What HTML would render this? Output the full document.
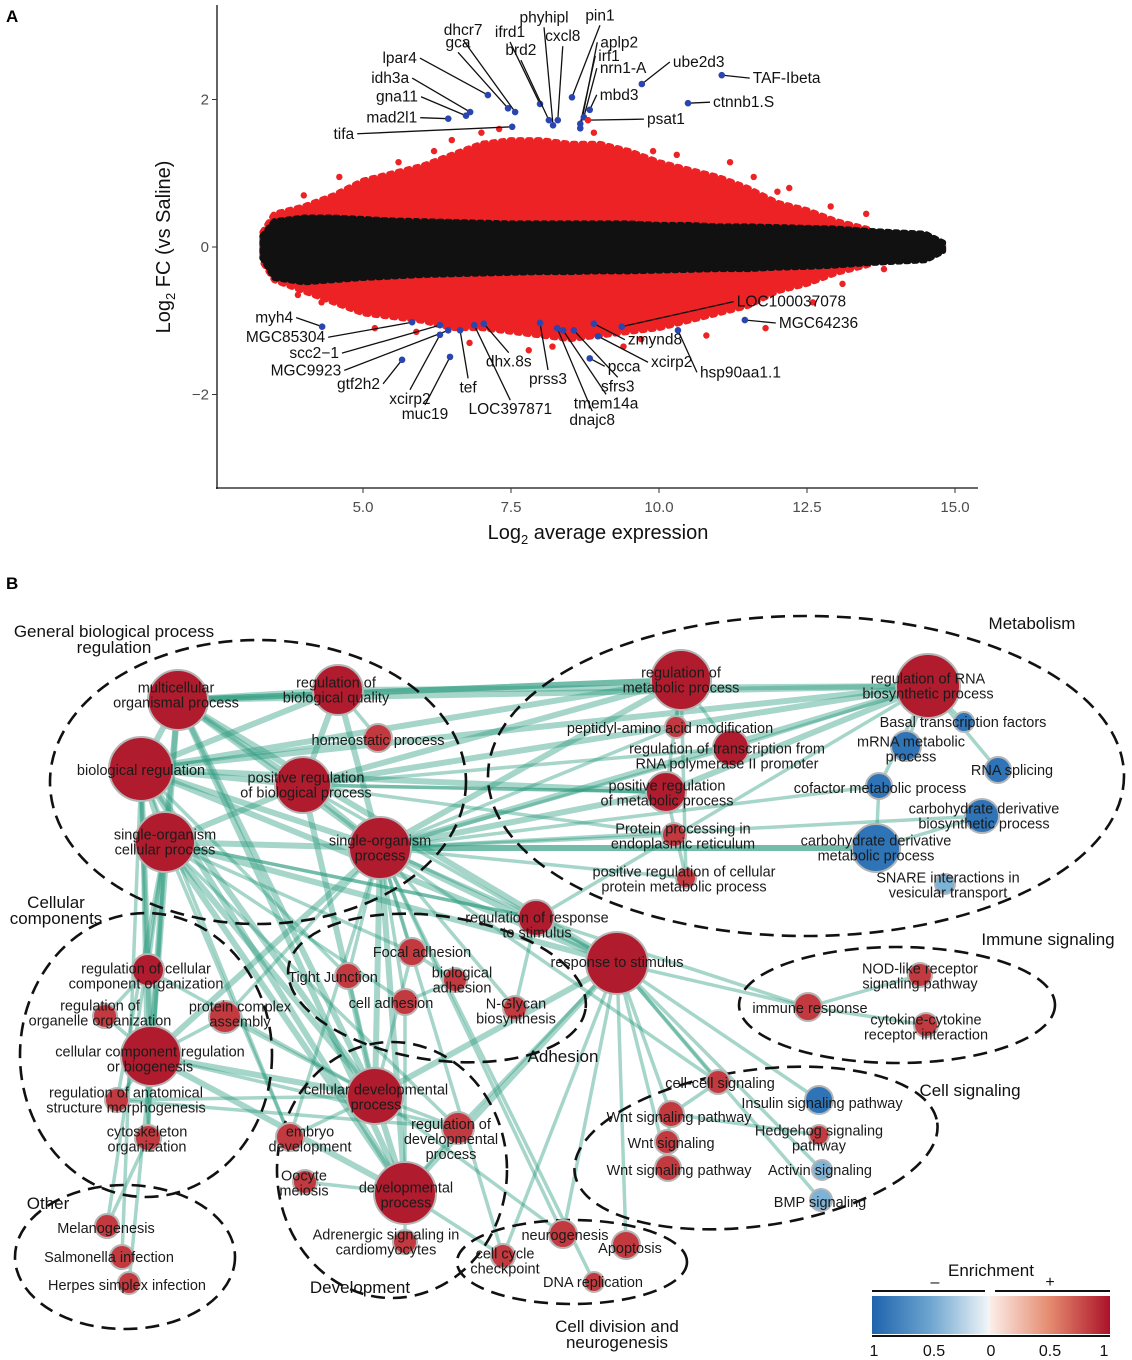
<!DOCTYPE html>
<html><head><meta charset="utf-8">
<style>
html,body{margin:0;padding:0;background:#fff;}
svg{display:block;font-family:"Liberation Sans",sans-serif;}
</style></head>
<body>
<svg id="fig" width="1132" height="1360" viewBox="0 0 1132 1360" xmlns="http://www.w3.org/2000/svg">
<defs>
<linearGradient id="gBlue" x1="0" x2="1" y1="0" y2="0"><stop offset="0" stop-color="#1f63ad"/><stop offset="0.5" stop-color="#6ea6d0"/><stop offset="1" stop-color="#f4f7f9"/></linearGradient>
<linearGradient id="gRed" x1="0" x2="1" y1="0" y2="0"><stop offset="0" stop-color="#fbeee8"/><stop offset="0.5" stop-color="#e58a6f"/><stop offset="1" stop-color="#ab1229"/></linearGradient>
</defs>
<text x="6" y="22" font-size="17" font-weight="bold">A</text>
<g id="panelA"></g>
<text x="6" y="589" font-size="17" font-weight="bold">B</text>
<g id="panelB"></g>
</svg>
<script>
// ---------- Panel A data ----------
const envX  = [3.3,3.5,4,4.5,5,5.5,6,6.5,7,7.5,8,8.5,9,9.5,10,10.5,11,11.5,12,12.5,13,13.5,14,14.5,14.8];
const redUp = [0.2,0.45,0.55,0.7,0.9,1.0,1.1,1.25,1.4,1.45,1.45,1.4,1.4,1.3,1.15,1.05,0.95,0.8,0.6,0.5,0.35,0.25,0.1,0.06,0.03];
const redLo = [-0.2,-0.45,-0.6,-0.75,-0.9,-0.95,-1.0,-1.1,-1.1,-1.15,-1.2,-1.25,-1.2,-1.15,-1.1,-1.0,-0.9,-0.8,-0.6,-0.5,-0.35,-0.25,-0.1,-0.06,-0.03];
const blkUp = [0.15,0.35,0.4,0.4,0.38,0.36,0.35,0.34,0.33,0.32,0.32,0.32,0.32,0.32,0.3,0.3,0.28,0.28,0.27,0.26,0.25,0.22,0.2,0.18,0.06];
const blkLo = [-0.15,-0.42,-0.48,-0.45,-0.42,-0.4,-0.38,-0.37,-0.36,-0.35,-0.34,-0.34,-0.33,-0.33,-0.32,-0.31,-0.3,-0.3,-0.28,-0.27,-0.25,-0.22,-0.2,-0.18,-0.06];
const redOutX = [4.0,4.6,6.2,9.9,12.2,13.5,11.2,5.2,7.8,10.8,12.6,13.8,11.8,9.4,8.9,6.8,3.9,12.9,7.3,5.6,6.5,10.3,11.6,13.1,4.3,8.2,9.7,12.0,5.9,7.0];
const redOutY = [0.7,0.95,1.3,1.3,0.8,0.45,1.15,-1.1,-1.4,-1.2,-0.75,-0.3,-1.1,-1.35,1.55,-1.3,-0.65,0.55,1.6,1.15,1.45,1.25,0.95,-0.5,-0.75,-1.35,-1.25,0.75,-1.15,1.55];
const xTicks = [5.0,7.5,10.0,12.5,15.0];
const xTickLabels = ["5.0","7.5","10.0","12.5","15.0"];
const yTicks = [2,0,-2];
const yTickLabels = ["2","0","\u22122"];
const geneNames = ["tifa","mad2l1","gna11","idh3a","lpar4","gca","dhcr7","ifrd1","brd2","phyhipl","cxcl8","pin1","aplp2","irf1","nrn1-A","mbd3","psat1","ube2d3","ctnnb1.S","TAF-Ibeta",
 "myh4","MGC85304","scc2\u22121","MGC9923","gtf2h2","xcirp2","muc19","tef","LOC397871","dhx.8s","prss3","dnajc8","tmem14a","sfrs3","pcca","xcirp2","zmynd8","hsp90aa1.1","MGC64236","LOC100037078"];
const geneX = [7.52,6.44,6.74,6.81,7.11,7.45,7.57,7.99,8.14,8.21,8.29,8.53,8.67,8.67,8.73,8.83,8.80,9.71,10.49,11.06,
 4.31,5.83,6.30,6.44,5.66,6.30,6.47,6.64,6.88,7.04,7.99,8.28,8.38,8.56,8.83,8.97,8.90,10.32,11.45,9.37];
const geneY = [1.63,1.74,1.78,1.83,2.06,1.88,1.83,1.94,1.72,1.65,1.72,2.03,1.61,1.67,1.76,1.86,1.72,2.21,1.95,2.33,
 -1.08,-1.02,-1.06,-1.13,-1.53,-1.19,-1.49,-1.13,-1.06,-1.04,-1.03,-1.10,-1.13,-1.13,-1.51,-1.21,-1.04,-1.13,-0.99,-1.08];
const geneRed = [0,0,0,0,0,0,0,0,0,0,0,0,0,0,0,0,1,0,0,0, 0,0,0,0,0,0,0,0,0,0,0,0,0,0,0,0,0,0,0,0];
const lblDX = [-155,-28,-45,-58,-68,-50,-52,-30,-28,-9,5,28,17,15,13,7,56,28,22,28, -26,-84,-98,-104,-19,-30,-25,8,36,25,8,35,43,44,15,50,31,19,31,112];
const lblDY = [7,-1,-19,-34,-37,-56,-72,-62,-60,-98,-74,-72,-86,-68,-49,-15,-1,-22,-1,3, -9,15,28,40,24,55,48,48,75,29,47,83,64,47,8,26,16,42,3,-25];
const lblAnc = ["e","e","e","e","e","m","m","m","m","m","m","m","s","s","s","s","s","s","s","s",
 "e","e","e","e","e","mb","mb","mb","mb","mb","mb","mb","mb","mb","s","s","s","s","s","s"];

const NS="http://www.w3.org/2000/svg";
function mk(tag, attrs, parent){const e=document.createElementNS(NS,tag);for(const k in attrs)e.setAttribute(k,attrs[k]);parent.appendChild(e);return e;}
const xs = v => 363 + (v-5)*59.2;
const ys = v => 247 - v*73.75;

const A = document.getElementById('panelA');
function band(up, lo){let d='M'+xs(envX[0])+','+ys(up[0]);for(let i=1;i<envX.length;i++)d+='L'+xs(envX[i])+','+ys(up[i]);for(let i=envX.length-1;i>=0;i--)d+='L'+xs(envX[i])+','+ys(lo[i]);return d+'Z';}
let p = mk('path',{d:band(redUp,redLo),fill:'#ec2224',stroke:'#ec2224','stroke-width':6,'stroke-dasharray':'3 6','stroke-linecap':'round','stroke-linejoin':'round'},A);


for(let i=0;i<redOutX.length;i++){
  const c = mk('circle',{cx:xs(redOutX[i]),cy:ys(redOutY[i]),r:3.2,fill:'#ec2224'},A);
  
  
}
p = mk('path',{d:band(blkUp,blkLo),fill:'#111',stroke:'#111','stroke-width':6,'stroke-dasharray':'3 5','stroke-linecap':'round','stroke-linejoin':'round'},A);


for(let i=0;i<geneNames.length;i++){
  const px=xs(geneX[i]), py=ys(geneY[i]);
  const ex=px+lblDX[i], ey=py+lblDY[i];
  const l = mk('line',{x1:px,y1:py,x2:ex,y2:ey,stroke:'#111','stroke-width':1.3},A);
  
  
  const c = mk('circle',{cx:px,cy:py,r:3.3,fill:geneRed[i]?'#ec2224':'#2a45b0'},A);
  
  
  let tx=ex, ty=ey+5, an='start';
  if(lblAnc[i]==='e'){tx=ex-3;an='end';}
  else if(lblAnc[i]==='s'){tx=ex+3;}
  else if(lblAnc[i]==='m'){an='middle';ty=ey-5;}
  else {an='middle';ty=ey+14;}
  const t = mk('text',{x:tx,y:ty,'text-anchor':an,'font-size':15.5,fill:'#111'},A);
  t.textContent=geneNames[i];
  
  
}
let ax = mk('line',{x1:217,y1:5,x2:217,y2:489,stroke:'#111','stroke-width':1.3},A);


ax = mk('line',{x1:216,y1:488,x2:978,y2:488,stroke:'#111','stroke-width':1.3},A);


for(let i=0;i<xTicks.length;i++){
  mk('line',{x1:xs(xTicks[i]),y1:488,x2:xs(xTicks[i]),y2:493,stroke:'#333'},A);
  const t=mk('text',{x:xs(xTicks[i]),y:512,'text-anchor':'middle','font-size':15,fill:'#4d4d4d'},A);
  t.textContent=xTickLabels[i];
  
  
}
for(let i=0;i<yTicks.length;i++){
  mk('line',{x1:212,y1:ys(yTicks[i]),x2:217,y2:ys(yTicks[i]),stroke:'#333'},A);
  const t=mk('text',{x:209,y:ys(yTicks[i])+5,'text-anchor':'end','font-size':15,fill:'#4d4d4d'},A);
  t.textContent=yTickLabels[i];
  
  
}
let tt = mk('text',{x:598,y:539,'text-anchor':'middle','font-size':20,fill:'#111'},A);
tt.innerHTML='Log<tspan font-size="13" dy="5">2</tspan><tspan dy="-5"> average expression</tspan>';


tt = mk('text',{x:0,y:0,'text-anchor':'middle','font-size':20,fill:'#111',transform:'translate(170,247) rotate(-90)'},A);
tt.innerHTML='Log<tspan font-size="13" dy="5">2</tspan><tspan dy="-5"> FC (vs Saline)</tspan>';



// ---------- Panel B data ----------
const nodeLabels = [
 ["multicellular","organismal process"],["regulation of","biological quality"],["homeostatic process"],["biological regulation"],
 ["positive regulation","of biological process"],["single-organism","cellular process"],["single-organism","process"],
 ["regulation of","metabolic process"],["regulation of RNA","biosynthetic process"],["peptidyl-amino acid modification"],
 ["Basal transcription factors"],["regulation of transcription from","RNA polymerase II promoter"],["mRNA metabolic","process"],
 ["RNA splicing"],["positive regulation","of metabolic process"],["cofactor metabolic process"],["carbohydrate derivative","biosynthetic process"],
 ["Protein processing in","endoplasmic reticulum"],["carbohydrate derivative","metabolic process"],["positive regulation of cellular","protein metabolic process"],
 ["SNARE interactions in","vesicular transport"],["regulation of response","to stimulus"],["response to stimulus"],["Focal adhesion"],
 ["Tight Junction"],["biological","adhesion"],["cell adhesion"],["N-Glycan","biosynthesis"],["regulation of cellular","component organization"],
 ["regulation of","organelle organization"],["protein complex","assembly"],["cellular component regulation","or biogenesis"],
 ["regulation of anatomical","structure morphogenesis"],["cytoskeleton","organization"],["immune response"],["NOD-like receptor","signaling pathway"],
 ["cytokine-cytokine","receptor interaction"],["cell-cell signaling"],["Insulin signaling pathway"],["Wnt signaling pathway"],
 ["Hedgehog signaling","pathway"],["Wnt signaling"],["Activin signaling"],["Wnt signaling pathway"],["BMP signaling"],
 ["cellular developmental","process"],["embryo","development"],["regulation of","developmental","process"],["Oocyte","meiosis"],
 ["developmental","process"],["Adrenergic signaling in","cardiomyocytes"],["neurogenesis"],["Apoptosis"],["cell cycle","checkpoint"],
 ["DNA replication"],["Melanogenesis"],["Salmonella infection"],["Herpes simplex infection"]];
const nodeEnrich = [1,1,0.9,1,1,1,1,1,1,0.9,-0.8,1,-0.9,-0.8,1,-0.9,-0.9,0.9,-0.9,0.9,-0.5,1,1,0.9,0.9,0.9,0.9,0.9,1,0.9,0.9,1,0.9,0.9,0.9,0.9,0.9,0.9,-0.9,0.9,0.9,0.9,-0.45,0.9,-0.45,1,0.9,0.9,0.9,1,0.9,0.9,0.9,0.9,0.9,0.9,0.9,0.9];
const nodeSize = [30,25,14,32,28,30,31,30,32,11,10,18,15,13,20,13,17,12,24,10,10,18,31,14,13,12,13,12,16,12,16,30,12,13,14,12,12,12,14,13,10,12,10,13,11,28,14,16,12,31,12,14,14,12,10,12,12,11];
const nodeX = [178,338,378,141,303,165,380,681,928,676,964,731,906,998,666,879,982,674,876,686,945,536,617,412,348,455,405,515,148,105,225,151,117,148,808,920,926,718,819,671,819,667,822,668,821,375,290,458,305,405,405,563,626,503,594,107,122,129];
const nodeY = [700,690,738,769,785,842,848,680,686,727,722,748,746,770,792,786,816,835,848,878,884,918,963,952,976,980,1002,1008,970,1016,1017,1056,1100,1138,1007,975,1025,1082,1100,1114,1135,1142,1170,1168,1200,1096,1137,1128,1182,1193,1242,1234,1245,1256,1282,1226,1257,1283];
const labelX = [176,336,378,141,306,165,380,681,928,670,963,727,911,1012,667,880,984,683,876,684,948,537,617,422,333,462,391,516,146,100,240,150,126,147,810,920,926,720,822,679,819,671,820,679,820,376,310,451,304,406,386,565,630,505,593,106,109,127];
const labelY = [695,690,740,770,785,842,848,680,686,728,722,756,749,770,793,788,816,836,848,879,885,925,962,952,977,980,1003,1011,976,1013,1014,1059,1100,1139,1008,976,1027,1083,1103,1117,1138,1143,1170,1170,1202,1097,1139,1139,1183,1195,1242,1235,1248,1261,1282,1228,1257,1285];
const edgeFrom = [3,3,3,3,3,3,0,0,0,0,1,1,4,4,5,6,6,6,3,3,4,4,6,6,6,5,5,3,5,5,3,6,6,0,0,3,5,21,22,22,22,7,7,7,8,8,14,7,8,8,8,15,16,18,28,29,30,31,31,28,5,5,3,31,31,45,45,45,49,49,49,45,32,6,6,25,23,6,22,22,45,49,6,22,22,39,37,5,3,31,33,6,21,6,4,4,0,6,22,34,34,21,6,3,4,1,5,3,6,45,22,22,39,49,5,6,0,4,
 0,0,3,5,5,4,4,1,6,6,6,3,5,0,28,30,22,21,5,3,6,45,49,31,6,6,7,8,22,6];
const edgeTo   = [0,1,4,5,6,2,1,4,5,6,4,2,6,5,6,7,8,14,7,8,14,11,11,21,22,28,31,31,45,49,45,45,49,49,45,22,22,22,34,37,38,7,14,11,11,14,19,19,10,12,13,18,18,6,31,31,31,32,33,29,33,32,33,45,49,49,46,47,47,48,50,32,47,23,26,26,25,27,51,52,51,53,53,39,43,41,39,55,56,57,55,37,34,18,7,8,8,15,47,35,36,8,51,49,45,6,47,24,24,24,44,42,40,22,21,16,7,21,
 7,31,28,23,26,14,17,8,17,9,19,14,21,22,45,45,53,27,46,46,46,23,26,47,31,30,9,15,45,54];

const B = document.getElementById('panelB');
const groups = [
 {n:'general-biological-process-ellipse',cx:258,cy:782,rx:208,ry:142,rot:0},
 {n:'metabolism-ellipse',cx:806,cy:776,rx:318,ry:160,rot:0},
 {n:'cellular-components-ellipse',cx:146,cy:1055,rx:126,ry:142,rot:0},
 {n:'adhesion-ellipse',cx:437,cy:988,rx:150,ry:72,rot:8},
 {n:'immune-signaling-ellipse',cx:897,cy:1005,rx:158,ry:58,rot:0},
 {n:'cell-signaling-ellipse',cx:756,cy:1148,rx:183,ry:78,rot:-8},
 {n:'development-ellipse',cx:392,cy:1170,rx:115,ry:128,rot:0},
 {n:'cell-division-ellipse',cx:572,cy:1262,rx:115,ry:42,rot:0},
 {n:'other-ellipse',cx:125,cy:1257,rx:110,ry:72,rot:0}];
const eg = mk('g',{},B);


for(let i=0;i<edgeFrom.length;i++){
  const a=edgeFrom[i], b=edgeTo[i];
  const w = (nodeSize[a]+nodeSize[b])>50 ? 6 : 3.5;
  const l = mk('line',{x1:nodeX[a],y1:nodeY[a],x2:nodeX[b],y2:nodeY[b],stroke:'#2a9c7e','stroke-width':w,'stroke-opacity':0.42,'stroke-linecap':'round'},eg);
  
  
}
for(const g of groups){
  const e = mk('ellipse',{cx:g.cx,cy:g.cy,rx:g.rx,ry:g.ry,fill:'none',stroke:'#111','stroke-width':2.6,'stroke-dasharray':'14 8',transform:'rotate('+g.rot+' '+g.cx+' '+g.cy+')'},B);
  
  
}
function enrichColor(v){
  if(v>=0.95) return '#b01c2e';
  if(v>0) return '#c23a3f';
  if(v<=-0.75) return '#2e74b7';
  return '#7eb3d8';
}
for(let i=0;i<nodeX.length;i++){
  const c = mk('circle',{cx:nodeX[i],cy:nodeY[i],r:nodeSize[i],fill:enrichColor(nodeEnrich[i]),stroke:'#b5b5b5','stroke-width':2},B);
  
  
}
for(let i=0;i<nodeX.length;i++){
  const lines=nodeLabels[i];
  const y0 = labelY[i] + 5 - (lines.length-1)*7.5;
  const t = mk('text',{x:labelX[i],y:y0,'text-anchor':'middle','font-size':14.5,fill:'#1a1a1a'},B);
  lines.forEach((s,k)=>{const ts=mk('tspan',{x:labelX[i],dy:k?15:0},t);ts.textContent=s;});
  
  
}
const gTitles = [["General biological process","regulation",114,637],["Metabolism",null,1032,629],["Cellular","components",56,908],
 ["Immune signaling",null,1048,945],["Adhesion",null,563,1062],["Cell signaling",null,970,1096],["Other",null,48,1209],
 ["Development",null,360,1293],["Cell division and","neurogenesis",617,1332]];
for(const g of gTitles){
  const t = mk('text',{x:g[2],y:g[3],'text-anchor':'middle','font-size':17,fill:'#111'},B);
  const a=mk('tspan',{x:g[2],dy:0},t);a.textContent=g[0];
  if(g[1]){const b=mk('tspan',{x:g[2],dy:16},t);b.textContent=g[1];}
  
  
}
const cb = mk('g',{},B);


mk('rect',{x:872,y:1296,width:118,height:38,fill:'url(#gBlue)'},cb);
mk('rect',{x:990,y:1296,width:120,height:38,fill:'url(#gRed)'},cb);
mk('line',{x1:872,y1:1291,x2:985,y2:1291,stroke:'#111','stroke-width':2},cb);
mk('line',{x1:995,y1:1291,x2:1110,y2:1291,stroke:'#111','stroke-width':2},cb);
mk('line',{x1:872,y1:1336,x2:1110,y2:1336,stroke:'#111','stroke-width':2},cb);
const cbTicks=[[874,"1"],[934,"0.5"],[991,"0"],[1050,"0.5"],[1104,"1"]];
for(const k of cbTicks){
  const t=mk('text',{x:k[0],y:1356,'text-anchor':'middle','font-size':16,fill:'#111'},cb);t.textContent=k[1];
  
  
}
let lt=mk('text',{x:991,y:1276,'text-anchor':'middle','font-size':17,fill:'#111'},cb);lt.textContent='Enrichment';


lt=mk('text',{x:935,y:1287,'text-anchor':'middle','font-size':16,fill:'#111'},cb);lt.textContent='\u2013';


lt=mk('text',{x:1050,y:1287,'text-anchor':'middle','font-size':16,fill:'#111'},cb);lt.textContent='+';


</script>
</body></html>
